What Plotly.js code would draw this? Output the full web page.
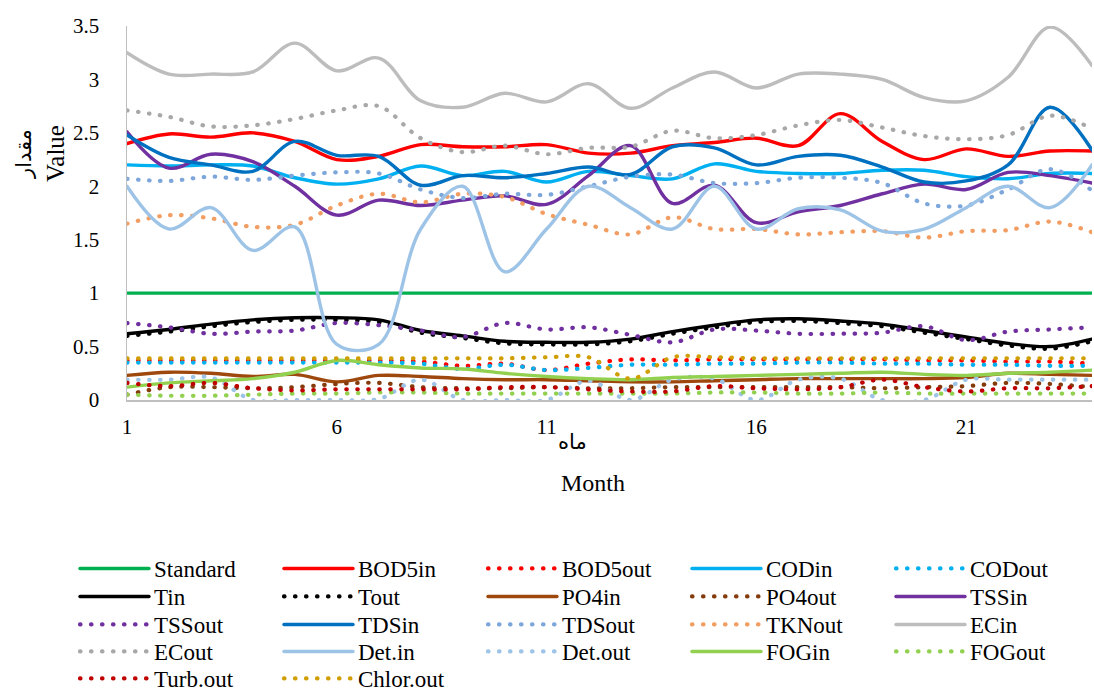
<!DOCTYPE html>
<html>
<head>
<meta charset="utf-8">
<script src="https://cdn.plot.ly/plotly-3.0.1.min.js"></script>
<style>
  html, body { margin: 0; padding: 0; background: #fff; }
  #chart { width: 1094px; height: 691px; }
  .js-line, .legendlines path { stroke-linecap: round; }
</style>
</head>
<body>
<div id="chart"></div>
<script>
// ---- data ----
const months = [1,2,3,4,5,6,7,8,9,10,11,12,13,14,15,16,17,18,19,20,21,22,23,24];

const Standard = [1,1,1,1,1,1,1,1,1,1,1,1,1,1,1,1,1,1,1,1,1,1,1,1];
const BOD5in  = [2.40,2.49,2.46,2.50,2.42,2.25,2.28,2.39,2.37,2.37,2.39,2.31,2.31,2.38,2.41,2.45,2.38,2.68,2.42,2.25,2.35,2.28,2.33,2.33];
const BOD5out = [0.37,0.37,0.37,0.37,0.37,0.37,0.37,0.36,0.32,0.34,0.28,0.34,0.38,0.37,0.38,0.38,0.38,0.38,0.38,0.37,0.37,0.36,0.36,0.34];
const CODin   = [2.20,2.19,2.20,2.19,2.08,2.02,2.07,2.19,2.10,2.14,2.04,2.14,2.10,2.07,2.21,2.14,2.12,2.12,2.15,2.15,2.09,2.07,2.12,2.12];
const CODout  = [0.35,0.35,0.35,0.35,0.35,0.35,0.35,0.34,0.29,0.33,0.28,0.30,0.33,0.33,0.34,0.34,0.35,0.35,0.34,0.34,0.33,0.33,0.32,0.32];
const Tin     = [0.62,0.66,0.71,0.75,0.77,0.77,0.75,0.65,0.60,0.55,0.54,0.54,0.57,0.64,0.70,0.75,0.76,0.74,0.71,0.65,0.59,0.53,0.50,0.57];
const Tout    = [0.60,0.64,0.69,0.73,0.75,0.75,0.73,0.63,0.58,0.53,0.52,0.52,0.55,0.62,0.68,0.73,0.74,0.72,0.69,0.63,0.57,0.51,0.48,0.55];
const PO4in   = [0.23,0.26,0.25,0.22,0.24,0.17,0.23,0.22,0.20,0.19,0.19,0.18,0.17,0.17,0.18,0.19,0.20,0.20,0.20,0.20,0.21,0.25,0.24,0.23];
const PO4out  = [0.05,0.12,0.12,0.11,0.12,0.15,0.16,0.12,0.11,0.11,0.12,0.11,0.11,0.12,0.12,0.12,0.12,0.12,0.11,0.12,0.13,0.16,0.15,0.12];
const TSSin   = [2.51,2.17,2.30,2.23,2.00,1.73,1.87,1.82,1.87,1.91,1.83,2.10,2.38,1.84,2.01,1.66,1.76,1.82,1.93,2.02,1.97,2.13,2.10,2.03];
const TSSout  = [0.72,0.68,0.62,0.64,0.65,0.72,0.70,0.65,0.59,0.72,0.66,0.68,0.61,0.54,0.66,0.65,0.62,0.62,0.63,0.69,0.56,0.64,0.66,0.68];
const TDSin   = [2.48,2.27,2.20,2.14,2.42,2.29,2.28,2.01,2.10,2.08,2.12,2.18,2.11,2.37,2.36,2.20,2.28,2.29,2.18,2.04,2.05,2.20,2.74,2.34];
const TDSout  = [2.07,2.05,2.09,2.06,2.10,2.13,2.12,1.97,1.89,1.93,1.92,2.00,2.09,2.11,2.03,2.03,2.08,2.08,2.03,1.84,1.82,1.97,2.16,1.96];
const TKNout  = [1.65,1.73,1.70,1.62,1.64,1.82,1.93,1.85,1.93,1.90,1.74,1.64,1.55,1.71,1.60,1.60,1.55,1.57,1.58,1.52,1.58,1.59,1.67,1.57];
const ECin    = [3.25,3.05,3.05,3.07,3.34,3.08,3.20,2.80,2.74,2.87,2.79,2.96,2.73,2.92,3.07,2.92,3.05,3.05,3.00,2.83,2.80,3.02,3.49,3.13];
const ECout   = [2.71,2.65,2.56,2.57,2.63,2.71,2.75,2.45,2.32,2.38,2.30,2.36,2.37,2.52,2.45,2.48,2.57,2.62,2.55,2.47,2.44,2.48,2.66,2.54];
const DetIn   = [2.00,1.60,1.80,1.40,1.62,0.52,0.52,1.60,2.00,1.20,1.60,2.00,1.80,1.60,2.00,1.60,1.79,1.78,1.58,1.60,1.80,2.00,1.80,2.20];
const DetOut  = [0.19,0.19,0.21,0.00,0.00,0.00,0.01,0.19,0.00,0.00,0.00,0.18,0.00,0.19,0.20,0.00,0.19,0.20,0.00,0.00,0.19,0.19,0.19,0.19];
const FOGin   = [0.12,0.16,0.18,0.20,0.26,0.37,0.33,0.30,0.29,0.25,0.22,0.20,0.19,0.21,0.22,0.23,0.24,0.25,0.26,0.24,0.23,0.25,0.26,0.28];
const FOGout  = [0.05,0.04,0.04,0.05,0.06,0.06,0.07,0.07,0.06,0.06,0.06,0.06,0.06,0.06,0.07,0.07,0.06,0.06,0.07,0.06,0.06,0.06,0.06,0.06];
const TurbOut = [0.16,0.13,0.16,0.11,0.09,0.10,0.10,0.10,0.10,0.12,0.12,0.10,0.08,0.08,0.13,0.11,0.10,0.12,0.19,0.12,0.08,0.11,0.11,0.13];
const ChlorOut= [0.39,0.39,0.39,0.39,0.39,0.39,0.39,0.39,0.39,0.39,0.40,0.40,0.20,0.40,0.40,0.39,0.39,0.39,0.39,0.39,0.39,0.39,0.39,0.39];

const xTickVals = [1,6,11,16,21];

// ---- styling ----
const FONT = "Liberation Serif, 'Times New Roman', DejaVu Sans, serif";
const AFONT = "DejaVu Sans, Noto Sans, sans-serif";
const DOT = "0.5px,10.5px";

// [name, values, color, dotted]
const series = [
  ["Standard", Standard, "#00B050", false],
  ["BOD5in",   BOD5in,   "#FF0000", false],
  ["BOD5out",  BOD5out,  "#FF0000", true ],
  ["CODin",    CODin,    "#00B0F0", false],
  ["CODout",   CODout,   "#00B0F0", true ],
  ["Tin",      Tin,      "#000000", false],
  ["Tout",     Tout,     "#000000", true ],
  ["PO4in",    PO4in,    "#9E480E", false],
  ["PO4out",   PO4out,   "#843C0C", true ],
  ["TSSin",    TSSin,    "#7030A0", false],
  ["TSSout",   TSSout,   "#7030A0", true ],
  ["TDSin",    TDSin,    "#0070C0", false],
  ["TDSout",   TDSout,   "#7DA7DB", true ],
  ["TKNout",   TKNout,   "#F29D62", true ],
  ["ECin",     ECin,     "#BDBDBD", false],
  ["ECout",    ECout,    "#A8A8A8", true ],
  ["Det.in",   DetIn,    "#9DC3E6", false],
  ["Det.out",  DetOut,   "#9DC3E6", true ],
  ["FOGin",    FOGin,    "#92D050", false],
  ["FOGout",   FOGout,   "#92D050", true ],
  ["Turb.out", TurbOut,  "#C00000", true ],
  ["Chlor.out",ChlorOut, "#D09E00", true ]
];

const legendIds = ["legend", "legend2", "legend3", "legend4", "legend5"];

const traces = series.map(([name, vals, color, dotted], i) => ({
  type: "scatter",
  mode: "lines",
  name: name,
  x: months,
  y: vals,
  legend: legendIds[Math.floor(i / 5)],
  line: {
    color: color,
    width: dotted ? 4.2 : 3.4,
    dash: dotted ? DOT : "solid",
    shape: "spline",
    smoothing: 1
  },
  hoverinfo: "skip"
}));

// plot area: x 127..1092, y 26..400
const PL = 127, PR = 1092, PT = 26, PB = 400;
const PW = PR - PL, PH = PB - PT;
const px = v => (v - PL) / PW;
const py = v => (PB - v) / PH;

const LEG_FONT = 23;
const rowCenters = [569, 597, 625, 652, 679];

function legendRow(centerPx) {
  return {
    orientation: "h",
    x: px(75),
    xanchor: "left",
    y: py(centerPx - 22),
    yanchor: "top",
    bgcolor: "rgba(0,0,0,0)",
    borderwidth: 0,
    itemwidth: 69,
    entrywidth: 120,
    entrywidthmode: "pixels",
    traceorder: "normal",
    font: { family: FONT, size: LEG_FONT, color: "#000" }
  };
}

const layout = {
  width: 1094,
  height: 691,
  paper_bgcolor: "#ffffff",
  plot_bgcolor: "#ffffff",
  margin: { l: PL, r: 1094 - PR, t: PT, b: 691 - PB, autoexpand: false },
  font: { family: FONT, size: 20, color: "#000" },
  hovermode: false,
  showlegend: true,
  xaxis: {
    range: [1, 24],
    tickmode: "array",
    tickvals: xTickVals,
    ticktext: xTickVals.map(String),
    showgrid: false,
    zeroline: false,
    showline: true,
    linecolor: "#BFBFBF",
    linewidth: 1.5,
    ticks: "",
    ticklabelstandoff: 7,
    tickfont: { family: FONT, size: 21, color: "#000" }
  },
  yaxis: {
    range: [0, 3.5],
    tick0: 0,
    dtick: 0.5,
    showgrid: false,
    zeroline: false,
    showline: true,
    linecolor: "#BFBFBF",
    linewidth: 1.5,
    ticks: "",
    ticklabelstandoff: 22,
    tickfont: { family: FONT, size: 21, color: "#000" }
  },
  legend:  legendRow(rowCenters[0]),
  legend2: legendRow(rowCenters[1]),
  legend3: legendRow(rowCenters[2]),
  legend4: legendRow(rowCenters[3]),
  legend5: legendRow(rowCenters[4]),
  annotations: [
    { text: "Value", xref: "paper", yref: "paper", x: px(55), y: py(154), textangle: -90,
      showarrow: false, xanchor: "center", yanchor: "middle",
      font: { family: FONT, size: 25, color: "#000" } },
    { text: "مقدار", xref: "paper", yref: "paper", x: px(24), y: py(154), textangle: -90,
      showarrow: false, xanchor: "center", yanchor: "middle",
      font: { family: AFONT, size: 21, color: "#000" } },
    { text: "ماه", xref: "paper", yref: "paper", x: px(572), y: py(442),
      showarrow: false, xanchor: "center", yanchor: "middle",
      font: { family: AFONT, size: 21, color: "#000" } },
    { text: "Month", xref: "paper", yref: "paper", x: px(593), y: py(483),
      showarrow: false, xanchor: "center", yanchor: "middle",
      font: { family: FONT, size: 24, color: "#000" } }
  ]
};

Plotly.newPlot("chart", traces, layout, { displayModeBar: false, staticPlot: true });
</script>
</body>
</html>
